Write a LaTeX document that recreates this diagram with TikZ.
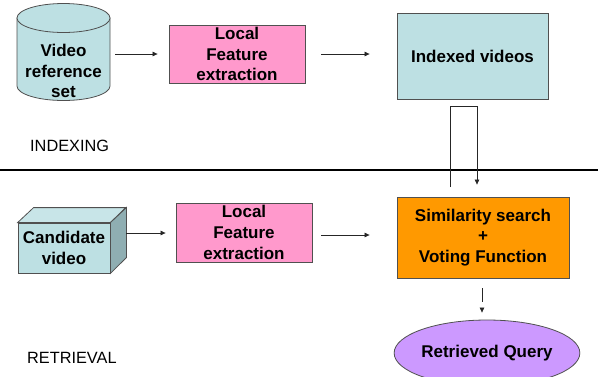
\documentclass[tikz,border=0pt]{standalone}
\usepackage{fontspec}
\setmainfont{Liberation Sans}
\usetikzlibrary{arrows.meta,shapes.geometric,calc}

\definecolor{vidblue}{HTML}{BDE0E3}
\definecolor{vidtop}{HTML}{C8E5E8}
\definecolor{cubeside}{HTML}{8FAEB2}
\definecolor{vidpink}{HTML}{FF99CC}
\definecolor{vidorange}{HTML}{FF9900}
\definecolor{vidpurple}{HTML}{CC99FF}
\definecolor{edgegray}{HTML}{505050}

\begin{document}
\begin{tikzpicture}[x=1pt,y=-1pt,
    box/.style={draw=edgegray,line width=0.8pt,align=center,inner sep=0pt,
      font=\fontsize{17}{20.8}\selectfont\bfseries},
    arr/.style={-{Triangle[length=5pt,width=4.5pt]},line width=0.7pt,black!85},
    stage/.style={anchor=west,inner sep=0pt,font=\fontsize{16.3}{20}\selectfont}]
    \useasboundingbox (0,0) rectangle (598,376);

    % Video reference set (cylinder)
    \filldraw[fill=vidblue,draw=edgegray,line width=0.8pt]
      (17,18) -- (17,86) arc[start angle=180,end angle=0,x radius=46.5,y radius=14.5]
      -- (110,18) -- cycle;
    \filldraw[fill=vidblue,draw=edgegray,line width=0.8pt]
      (63.5,18) ellipse[x radius=46.5,y radius=14.5];
    \node[box,draw=none,minimum width=93pt] (refset) at (63.5,71) {Video\\reference\\set};

    % Local feature extraction (indexing)
    \node[box,fill=vidpink,minimum width=136pt,minimum height=58pt] (lfe1) at (237,54)
      {Local\\Feature\\extraction};

    % Indexed videos
    \node[box,fill=vidblue,minimum width=151pt,minimum height=86pt] (idx) at (472.5,56)
      {Indexed videos};

    \draw[arr,shorten <=5pt,shorten >=11pt] (refset.east |- lfe1.west) -- (lfe1.west);
    \draw[arr,shorten <=16pt,shorten >=27pt] (lfe1.east) -- (lfe1.east -| idx.west);

    % Separator between the two phases
    \draw[line width=1.8pt] (0,170) -- (598,170);
    \node[stage] (indexing) at (30,146) {INDEXING};
    \node[stage] (retrieval) at (27,358) {RETRIEVAL};

    % Candidate video (cube)
    \node[box,fill=vidblue,minimum width=92pt,minimum height=50pt] (cand) at (64,248)
      {Candidate\\video};
    \filldraw[fill=vidtop,draw=edgegray,line width=0.8pt]
      (cand.north west) -- ++(16,-15) -- ++(92,0) -- (cand.north east) -- cycle;
    \filldraw[fill=cubeside,draw=edgegray,line width=0.8pt]
      (cand.north east) -- ++(16,-15) -- ++(0,50) -- (cand.south east) -- cycle;

    % Local feature extraction (retrieval)
    \node[box,fill=vidpink,minimum width=136pt,minimum height=59pt] (lfe2) at (244,232.5)
      {Local\\Feature\\extraction};

    % Similarity search + voting
    \node[box,fill=vidorange,minimum width=172pt,minimum height=81pt] (sim) at (483,237.5)
      {Similarity search\\+\\Voting Function};

    % Retrieved query
    \node[box,ellipse,fill=vidpurple,minimum width=155pt,minimum height=66pt] (qry) at (487,353)
      {Retrieved Query};

    \draw[arr,shorten <=16pt,shorten >=10pt] ($(cand.east)+(0,-15)$) -- (lfe2.west |- 0,233);
    \draw[arr,shorten <=9pt,shorten >=27pt] (lfe2.east |- 0,235) -- (sim.west |- 0,235);

    % Loop from the index down to the search
    \coordinate (uL) at (450,187);
    \coordinate (uR) at (477,106);
    \draw[arr,shorten >=12pt] (uL) |- (uR) -- (uR |- sim.north);

    % Dashed link to the result
    \draw[arr,dash pattern=on 14pt off 20pt,shorten <=10pt,shorten >=7pt]
      ($(sim.south)+(-1,0)$) -- ($(sim.south |- qry.north)+(-1,0)$);
\end{tikzpicture}
\end{document}
